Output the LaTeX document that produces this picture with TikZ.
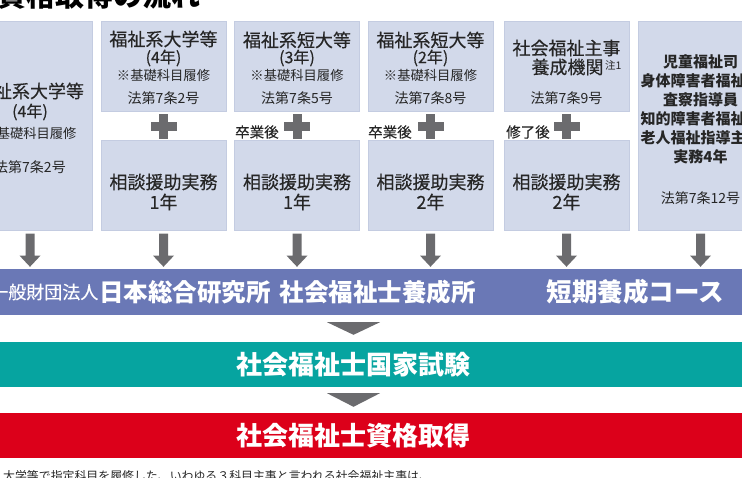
\documentclass[tikz,border=0pt]{standalone}
\usepackage{fontspec}
\setmainfont{Noto Sans CJK JP}
\newfontfamily\jpmed[FakeBold=0.35]{Noto Sans CJK JP}
\usetikzlibrary{calc}
\definecolor{boxfill}{HTML}{D2D9EA}
\definecolor{boxline}{HTML}{C4CCE1}
\definecolor{txt}{HTML}{262626}
\definecolor{arrowgray}{HTML}{6B6B6E}
\definecolor{bandpurple}{HTML}{6A78B6}
\definecolor{bandteal}{HTML}{06A4A0}
\definecolor{bandred}{HTML}{DC001A}
\newcommand\fsz[1]{\fontsize{#1}{#1}\selectfont}
\begin{document}
\begin{tikzpicture}[x=1pt,y=-1pt,
  box/.style={fill=boxfill,draw=boxline,line width=0.6pt,minimum width=125pt,inner sep=0pt,anchor=north},
  band/.style={minimum width=750pt,inner sep=0pt,draw=none},
  lbl/.style={inner sep=0pt,text=txt},
  head/.style={lbl,font=\jpmed\fsz{18}},
  yrs/.style={lbl,font=\jpmed\fsz{16}},
  note/.style={lbl,font=\fsz{13.3}},
  law/.style={lbl,font=\fsz{14}},
  after/.style={lbl,font=\jpmed\fsz{14.5},anchor=west},
  bold6/.style={lbl,font=\bfseries\fsz{15}},
  wtxt/.style={inner sep=0pt,text=white,font=\bfseries\fsz{26}}
]
\useasboundingbox (0,0) rectangle (742,477);
\clip (0,0) rectangle (742,477);

% title
\node[inner sep=0pt,anchor=base east,text=black,font=\bfseries\fsz{29}] (title) at (201,6) {資格取得の流れ};

% boxes
\node[box,minimum height=209pt] (b1) at (30,21) {};
\node[box,minimum height=90pt] (b2t) at (163.5,21) {};
\node[box,minimum height=90pt] (b2b) at (163.5,140) {};
\node[box,minimum height=90pt] (b3t) at (297,21) {};
\node[box,minimum height=90pt] (b3b) at (297,140) {};
\node[box,minimum height=90pt] (b4t) at (430.5,21) {};
\node[box,minimum height=90pt] (b4b) at (430.5,140) {};
\node[box,minimum height=90pt] (b5t) at (566.5,21) {};
\node[box,minimum height=90pt] (b5b) at (566.5,140) {};
\node[box,minimum height=209pt] (b6) at (700.5,21) {};

% bands
\node[band,fill=bandpurple,minimum height=46pt] (band1) at (371,292) {};
\node[band,fill=bandteal,minimum height=45pt] (band2) at (371,364.5) {};
\node[band,fill=bandred,minimum height=45pt] (band3) at (371,435.5) {};

% box 1 texts
\node[head] (t1a) at (30,91) {福祉系大学等};
\node[yrs] (t1b) at (30,112) {(4年)};
\node[note] (t1c) at (30,133) {※基礎科目履修};
\node[law] (t1d) at (30,167) {法第7条2号};

% box 2
\node[head] (t2a) at (163.5,39) {福祉系大学等};
\node[yrs] (t2b) at (163.5,58) {(4年)};
\node[note] (t2c) at (163.5,75.5) {※基礎科目履修};
\node[law] (t2d) at (163.5,98) {法第7条2号};
\node[head] (t2e) at (163.5,182) {相談援助実務};
\node[head] (t2f) at (163.5,202) {1年};

% box 3
\node[head] (t3a) at (297,40) {福祉系短大等};
\node[yrs] (t3b) at (297,58) {(3年)};
\node[note] (t3c) at (297,75.5) {※基礎科目履修};
\node[law] (t3d) at (297,98) {法第7条5号};
\node[after] (t3g) at (235,132) {卒業後};
\node[head] (t3e) at (297,182) {相談援助実務};
\node[head] (t3f) at (297,202) {1年};

% box 4
\node[head] (t4a) at (430.5,40) {福祉系短大等};
\node[yrs] (t4b) at (430.5,58) {(2年)};
\node[note] (t4c) at (430.5,75.5) {※基礎科目履修};
\node[law] (t4d) at (430.5,98) {法第7条8号};
\node[after] (t4g) at (368,132) {卒業後};
\node[head] (t4e) at (430.5,182) {相談援助実務};
\node[head] (t4f) at (430.5,202) {2年};

% box 5
\node[head] (t5a) at (566.5,48) {社会福祉主事};
\node[head] (t5b) at (567.5,67) {養成機関};
\node[lbl,font=\fsz{10.5},anchor=west] (t5n) at (605,65) {注1};
\node[law] (t5d) at (566.5,98) {法第7条9号};
\node[after] (t5g) at (506,132) {修了後};
\node[head] (t5e) at (566.5,182) {相談援助実務};
\node[head] (t5f) at (566.5,202) {2年};

% box 6
\node[bold6] (t6a) at (700.5,62) {児童福祉司};
\node[bold6] (t6b) at (700.5,81) {身体障害者福祉司};
\node[bold6] (t6c) at (700.5,100) {査察指導員};
\node[bold6] (t6d) at (700.5,119) {知的障害者福祉司};
\node[bold6] (t6e) at (700.5,138) {老人福祉指導主事};
\node[bold6] (t6f) at (700.5,157) {実務4年};
\node[law] (t6g) at (700.5,198) {法第7条12号};

% plus signs
\foreach \n in {b2t,b3t,b4t,b5t}{
  \fill[arrowgray] ($(\n.south)+(-4.5,2)$) rectangle ($(\n.south)+(4.5,27)$);
  \fill[arrowgray] ($(\n.south)+(-13,10.5)$) rectangle ($(\n.south)+(13,19.5)$);
}

% down arrows
\foreach \n in {b1,b2b,b3b,b4b,b5b,b6}{
  \fill[arrowgray] ($(\n.south)+(-4.5,3)$) -- ($(\n.south)+(4.5,3)$)
    -- ($(\n.south)+(4.5,25)$) -- ($(\n.south)+(10.5,25)$)
    -- ($(\n.south |- band1.north)+(0,-2)$)
    -- ($(\n.south)+(-10.5,25)$) -- ($(\n.south)+(-4.5,25)$) -- cycle;
}

% triangles between bands
\coordinate (mid) at (353.5,0);
\fill[arrowgray] ($(mid |- band1.south)+(-26.5,7)$) -- ($(mid |- band1.south)+(26.5,7)$) -- ($(mid |- band2.north)+(0,-7)$) -- cycle;
\fill[arrowgray] ($(mid |- band2.south)+(-26.5,6)$) -- ($(mid |- band2.south)+(26.5,6)$) -- ($(mid |- band3.north)+(0,-6)$) -- cycle;

% band texts
\node[inner sep=0pt,text=white,font=\jpmed\fsz{18},anchor=east] (org) at (98.5,292) {一般財団法人};
\node[wtxt,font=\bfseries\fsz{24.5},anchor=west] (inst) at (99,292) {日本総合研究所\hspace{9pt}社会福祉士養成所};
\node[wtxt,font=\bfseries\fsz{25.5}] (course) at (635.5,292) {短期養成コース};
\node[wtxt] (exam) at (353.5,365) {社会福祉士国家試験};
\node[wtxt] (qual) at (353.5,436) {社会福祉士資格取得};

% footnote
\node[inner sep=0pt,text=txt,font=\fsz{11.9},anchor=base west] (foot) at (3,480) {大学等で指定科目を履修した、いわゆる３科目主事と言われる社会福祉主事は、};
\end{tikzpicture}
\end{document}
